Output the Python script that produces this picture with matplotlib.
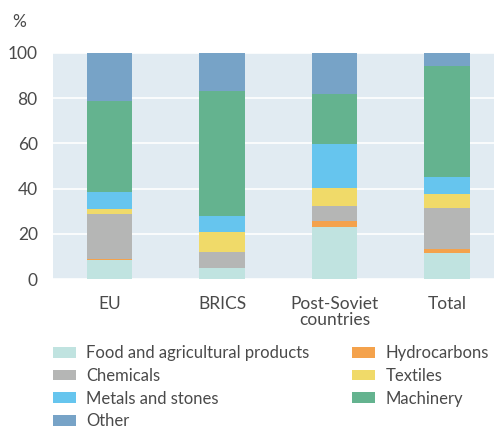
import matplotlib
matplotlib.use("Agg")
import matplotlib.pyplot as plt
import numpy as np
from matplotlib.patches import Patch

categories = ["EU", "BRICS", "Post-Soviet\ncountries", "Total"]
food = [8.4, 4.8, 23.1, 11.5]
hydrocarbons = [0.6, 0.2, 2.8, 1.9]
chemicals = [19.7, 6.9, 6.3, 18.2]
textiles = [2.3, 9.0, 7.9, 6.0]
metals = [7.7, 7.2, 19.8, 7.4]
machinery = [40.1, 54.8, 21.7, 49.0]
other = [21.2, 17.1, 18.4, 6.0]
yticks = [0, 20, 40, 60, 80, 100]

series = [
    ("Food and agricultural products", food, "#c0e3e0"),
    ("Hydrocarbons", hydrocarbons, "#f4a24c"),
    ("Chemicals", chemicals, "#b5b6b5"),
    ("Textiles", textiles, "#f0da69"),
    ("Metals and stones", metals, "#66c5ee"),
    ("Machinery", machinery, "#64b38f"),
    ("Other", other, "#77a3c7"),
]

plt.rcParams['font.family'] = ['Lato', 'DejaVu Sans']
txt = "#4a4a4a"
fs = 12.5
lfs = 12

fig = plt.figure(figsize=(4.94, 4.28), dpi=100)
ax = fig.add_axes([53/494, 1 - 279.3/428, 1 - 53/494, (279.3 - 52.7)/428])
ax.set_facecolor("#e1ebf2")

x = np.arange(len(categories))
bottom = np.zeros(len(categories))
handles = {}
for name, vals, col in series:
    ax.bar(x, vals, width=0.406, bottom=bottom, color=col, edgecolor="none", zorder=2)
    bottom += np.array(vals)
    handles[name] = Patch(facecolor=col, edgecolor="none")

ax.set_ylim(0, 100)
ax.set_xlim(-0.503, 3.42)
ax.set_yticks(yticks)
ax.yaxis.grid(True, color="white", linewidth=1.2, zorder=1)
ax.set_axisbelow(True)
for s in ax.spines.values():
    s.set_visible(False)
ax.tick_params(axis="both", length=0, labelsize=fs, colors=txt, labelcolor=txt)
ax.tick_params(axis="y", pad=11)
ax.tick_params(axis="x", pad=12)
ax.set_xticks(x)
ax.set_xticklabels(categories, linespacing=1.0)

fig.text(12/494, 1 - 22/428, "%", fontsize=fs, color=txt, va="center", ha="left")

col1 = ["Food and agricultural products", "Chemicals", "Metals and stones", "Other"]
col2 = ["Hydrocarbons", "Textiles", "Machinery"]
common = dict(frameon=False, handlelength=1.38, handleheight=0.62,
              handletextpad=0.62, labelspacing=0.41, borderpad=0, borderaxespad=0,
              loc="upper left", labelcolor=txt, prop={'size': lfs})
leg1 = fig.legend([handles[n] for n in col1], col1, bbox_to_anchor=(53/494, 1 - 345/428), **common)
leg2 = fig.legend([handles[n] for n in col2], col2, bbox_to_anchor=(352/494, 1 - 345/428), **common)

fig.savefig("out.png", dpi=100)
